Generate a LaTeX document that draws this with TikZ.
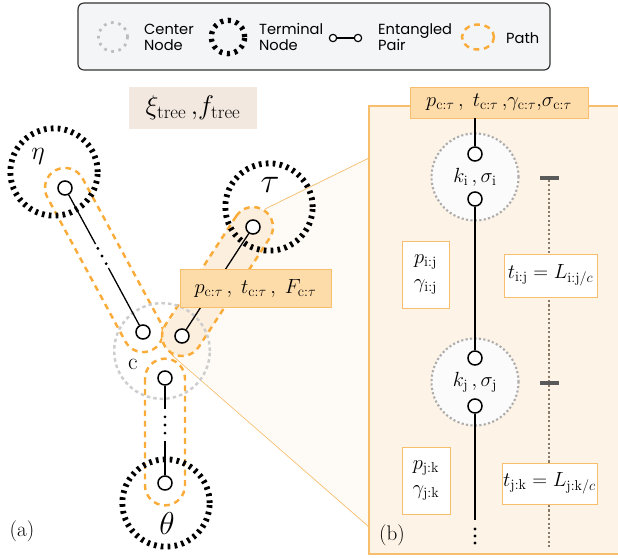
\documentclass[tikz,border=0pt]{standalone}
\usepackage{fix-cm}
\usepackage{amsmath}
\usepackage{fontspec}
\newfontfamily\legendfont{Poppins}
\usetikzlibrary{positioning, calc, backgrounds}
\definecolor{pathorange}{RGB}{250,172,58}
\definecolor{labelfill}{RGB}{253,220,170}
\definecolor{labeledge}{RGB}{247,190,110}
\definecolor{panelfill}{RGB}{253,243,230}
\definecolor{zoomfill}{RGB}{254,251,246}
\definecolor{taufill}{RGB}{253,239,222}
\definecolor{treefill}{RGB}{242,232,223}
\definecolor{legendfill}{RGB}{244,245,247}
\definecolor{centergray}{RGB}{205,205,205}
\definecolor{kgray}{RGB}{172,172,172}
\definecolor{tickgray}{RGB}{90,90,90}
\definecolor{rulebrown}{RGB}{140,122,104}

\begin{document}
\begin{tikzpicture}[x=0.03cm, y=-0.03cm,
  terminal/.style={circle, draw=black, line width=5pt, dash pattern=on 2.3pt off 3.6pt, minimum size=2.62cm, inner sep=0pt},
  centre/.style={circle, draw=centergray, line width=2.1pt, dash pattern=on 3pt off 2.6pt, minimum size=2.87cm, inner sep=0pt},
  knode/.style={circle, draw=kgray, fill=gray!3, line width=1.8pt, dash pattern=on 1.8pt off 2pt, minimum size=2.61cm, inner sep=0pt, font=\fontsize{17.5}{21}\selectfont},
  qubit/.style={circle, draw=black, fill=white, line width=1.3pt, minimum size=0.42cm, inner sep=0pt},
  pathloop/.style={draw=pathorange, line width=2.1pt, dash pattern=on 5pt off 4pt, rounded corners=0.6cm, minimum height=1.2cm, inner sep=0pt},
  gap/.style={minimum width=4pt, inner sep=0pt},
  labelbox/.style={draw=labeledge, fill=labelfill, line width=0.8pt, inner sep=0pt, font=\fontsize{17.5}{21}\selectfont},
  whitebox/.style={draw=labeledge, fill=white, line width=0.8pt, inner sep=0pt, align=center, font=\fontsize{17.5}{22}\selectfont},
  legendtext/.style={anchor=west, align=left, font=\legendfont\fontsize{12.5}{13.5}\selectfont},
  bigsym/.style={inner sep=0pt},
  panelline/.style={line width=1.5pt},
  treeline/.style={line width=1.1pt}]
\useasboundingbox (0,0) rectangle (618,557);

% Legend
\draw[rounded corners=0.18cm, draw=black!80, fill=legendfill, line width=1pt] (78,3) rectangle (550,70);
\node[circle, draw=kgray!80, line width=2.3pt, dash pattern=on 2.3pt off 4pt, minimum size=0.87cm, inner sep=0pt] (leg-centre) at (113,37) {};
\node[legendtext] at (140,37) {Center\\Node};
\node[circle, draw=black, line width=4.5pt, dash pattern=on 2.6pt off 4pt, minimum size=1.0cm, inner sep=0pt] (leg-terminal) at (228,37) {};
\node[legendtext] at (255,37) {Terminal\\Node};
\node[circle, draw=black, fill=white, line width=1pt, minimum size=0.22cm, inner sep=0pt] (leg-qa) at (333,38) {};
\node[circle, draw=black, fill=white, line width=1pt, minimum size=0.22cm, inner sep=0pt] (leg-qb) at (358,38) {};
\draw[line width=1pt] (leg-qa) -- (leg-qb);
\node[legendtext] at (374,37) {Entangled\\Pair};
\draw[draw=pathorange, line width=2.1pt, dash pattern=on 5pt off 4pt] (478,37) ellipse (16 and 12.5);
\node[legendtext] at (502,38) {Path};

% Zoom region and panel (b)
\fill[zoomfill] (265,208) -- (369,158) -- (369,527) -- (175,355) -- cycle;
\draw[draw=labeledge, fill=panelfill, line width=1pt] (369,106) rectangle (622,554);
\coordinate (zoom-top) at (369,158);
\coordinate (zoom-bot) at (369,527);

% Tree (a)
\node[fill=treefill, minimum width=3.84cm, minimum height=1.26cm, inner sep=0pt, font=\fontsize{23}{26}\selectfont] (tree) at (193,108) {$\xi_{\mathrm{tree}}\,{,}f_{\mathrm{tree}}$};

\node[pathloop, rotate=-61.56, minimum width=6.12cm] (eta-path) at (104,260) {};
\node[pathloop, fill=taufill, rotate=56.92, minimum width=5.1cm] (tau-path) at (217.5,281.5) {};
\node[pathloop, rotate=90, minimum width=4.4cm] (theta-path) at (165,432) {};
\draw[draw=labeledge, line width=0.6pt] (tau-path.east) -- (zoom-top);
\draw[draw=labeledge, line width=0.6pt] (tau-path.west) -- (zoom-bot);

\node[terminal] (eta) at (54,172) {};
\node[terminal] (tau) at (269,207) {};
\node[terminal] (theta) at (166,503) {};
\node[centre] (c) at (162,351) {};

\node[qubit] (eta-q) at (65,188) {};
\node[qubit] (c-left) at (143,332) {};
\node[qubit] (c-right) at (182,336) {};
\node[qubit] (c-bot) at (165,378) {};
\node[qubit] (tau-q) at (253,227) {};
\node[qubit] (theta-q) at (165,483) {};

\node[gap, minimum height=0.8cm, rotate=28.44] (eta-gap) at (102,256) {};
\node[gap, minimum height=0.95cm] (theta-gap) at (165,425) {};
\draw[treeline] (eta-q) -- (eta-gap);
\draw[treeline] (eta-gap) -- (c-left);
\draw[treeline] (c-bot) -- (theta-gap);
\draw[treeline] (theta-gap) -- (theta-q);
\draw[treeline] (tau-q) -- (c-right);
\foreach \t in {0.18,0.5,0.82} {
    \fill ($(eta-gap.north)!\t!(eta-gap.south)$) circle (1.3pt);
}
\foreach \t in {0.25,0.5,0.75} {
    \fill ($(theta-gap.north)!\t!(theta-gap.south)$) circle (1.3pt);
}

\node[labelbox, minimum width=4.53cm, minimum height=1.14cm] (link-lbl) at (255.5,288) {$p_{\mathrm{c}:\tau}\,,\; t_{\mathrm{c}:\tau}\,,\; F_{\mathrm{c}:\tau}$};

\node[bigsym, font=\fontsize{22}{24}\selectfont] at (38,156) {$\eta$};
\node[bigsym, font=\fontsize{30}{32}\selectfont] at (270,185) {$\tau$};
\node[bigsym, font=\fontsize{27}{30}\selectfont] at (167,524) {$\theta$};
\node[bigsym, font=\fontsize{20}{22}\selectfont] at (133,364) {$\mathrm{c}$};
\node[bigsym, font=\fontsize{18}{20}\selectfont] at (22,531) {(a)};

% Panel (b)
\node[labelbox, minimum width=5.34cm, minimum height=0.93cm] (top-lbl) at (499,102.5) {$p_{\mathrm{c}:\tau}\,,\; t_{\mathrm{c}:\tau}\,{,}\gamma_{\mathrm{c}:\tau}{,}\sigma_{\mathrm{c}:\tau}$};

\node[knode] (ki) at (475,177) {$k_{\mathrm{i}}\,,\sigma_{\mathrm{i}}$};
\node[knode] (kj) at (475,382) {$k_{\mathrm{j}}\,,\sigma_{\mathrm{j}}$};
\node[qubit] (ki-top) at (475,154) {};
\node[qubit] (ki-bot) at (475,199) {};
\node[qubit] (kj-top) at (475,358) {};
\node[qubit] (kj-bot) at (475,406) {};
\coordinate (chain-end) at (475,520);
\draw[panelline] (ki-top) -- (ki-top |- top-lbl.south);
\draw[panelline] (ki-bot) -- (kj-top);
\draw[panelline] (kj-bot) -- (chain-end);
\foreach \y in {529,536,543} {
    \fill (475,\y) circle (1.4pt);
}

\node[fill=tickgray, minimum width=0.57cm, minimum height=2.6pt, inner sep=0pt] (tick-i) at (549,178) {};
\node[fill=tickgray, minimum width=0.57cm, minimum height=2.6pt, inner sep=0pt] (tick-j) at (549,383) {};
\coordinate (rule-end) at (549,548);
\draw[draw=rulebrown, line width=1.1pt, dash pattern=on 1.8pt off 2pt] (tick-i) -- (tick-j);
\draw[draw=rulebrown, line width=1.1pt, dash pattern=on 1.8pt off 2pt] (tick-j) -- (rule-end);

\node[whitebox, minimum width=1.41cm, minimum height=2.01cm] (ij-box) at (425.5,274.5) {$p_{\mathrm{i:j}}$\\$\gamma_{\mathrm{i:j}}$};
\node[whitebox, minimum width=1.44cm, minimum height=2.01cm] (jk-box) at (426,480.5) {$p_{\mathrm{j:k}}$\\$\gamma_{\mathrm{j:k}}$};
\node[whitebox, minimum width=2.79cm, minimum height=1.29cm] (tij-box) at (550.5,275.5) {$t_{\mathrm{i:j}} = L_{\mathrm{i:j}/c}$};
\node[whitebox, minimum width=2.85cm, minimum height=1.23cm] (tjk-box) at (549.5,483.5) {$t_{\mathrm{j:k}} = L_{\mathrm{j:k}/c}$};

\node[bigsym, font=\fontsize{18}{20}\selectfont] at (392,535) {(b)};
\end{tikzpicture}
\end{document}
